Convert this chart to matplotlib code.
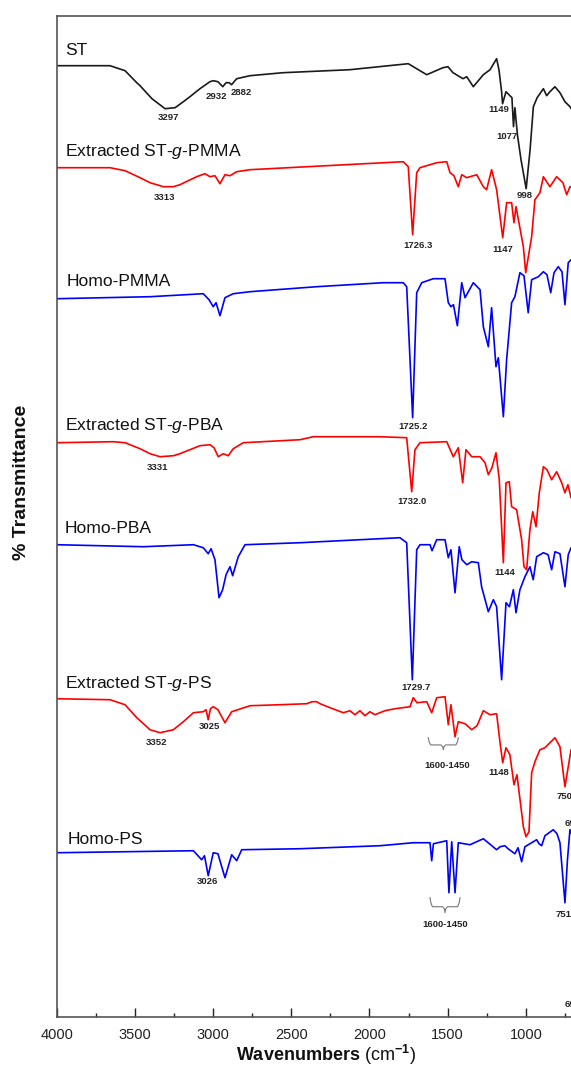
import matplotlib
matplotlib.use("Agg")
import matplotlib.pyplot as plt
from matplotlib.ticker import MultipleLocator

plt.rcParams['font.family'] = ['Liberation Sans', 'DejaVu Sans']
plt.rcParams['mathtext.fontset'] = 'custom'
plt.rcParams['mathtext.rm'] = 'Liberation Sans'
plt.rcParams['mathtext.it'] = 'Liberation Sans:italic'
plt.rcParams['mathtext.bf'] = 'Liberation Sans:bold'

# spectra: wavenumber (cm-1) and stacked transmittance (a.u.)
st_wn = [4000, 3659, 3563, 3488, 3467, 3391, 3307, 3243, 3190, 3148, 3084, 3020, 2999, 2969, 2938,
         2917, 2898, 2882, 2849, 2764, 2553, 2125, 1752, 1634, 1530, 1498, 1466, 1402,
         1378, 1336, 1272, 1229, 1187, 1172, 1155, 1149, 1127, 1102, 1089, 1079, 1070,
         1054, 1031, 998, 973, 952, 928, 888, 867, 846, 814, 782, 750, 718, 686]
st_t = [951, 951, 946, 934, 931, 918, 908, 909, 915, 920, 928, 935, 936, 935, 930,
        934, 934, 932, 938, 941, 944, 947, 953, 942, 949, 950, 944, 938,
        940, 930, 942, 947, 958, 947, 925, 913, 925, 921, 919, 890, 909,
        882, 857, 828, 867, 910, 919, 928, 921, 925, 930, 924, 915, 910, 902]

pmma_g_wn = [4000, 3659, 3563, 3467, 3403, 3318, 3254, 3212, 3105, 3052, 3020, 2988, 2956, 2924, 2892,
             2849, 2764, 1784, 1752, 1724, 1698, 1677, 1570, 1506, 1485, 1460, 1432, 1410,
             1378, 1314, 1272, 1251, 1219, 1187, 1148, 1123, 1091, 1076, 1063, 1016, 1001,
             963, 942, 910, 888, 846, 803, 763, 739, 718, 686]
pmma_g_t = [849, 849, 846, 839, 834, 830, 830, 832, 840, 843, 840, 841, 833, 842, 841,
            845, 847, 855, 850, 782, 844, 849, 854, 855, 844, 841, 830, 842,
            839, 842, 830, 827, 847, 827, 779, 814, 814, 794, 810, 770, 744,
            780, 817, 824, 840, 830, 840, 834, 822, 830, 827]

pmma_wn = [4000, 3403, 3063, 3026, 2999, 2981, 2956, 2924, 2871, 2764, 2338, 1912, 1784,
           1762, 1724, 1698, 1666, 1592, 1517, 1496, 1479, 1463, 1438, 1410, 1389, 1336,
           1293, 1272, 1240, 1219, 1191, 1176, 1144, 1123, 1091, 1070, 1038, 1012, 985,
           963, 920, 888, 865, 841, 820, 793, 769, 750, 729, 711, 686]
pmma_t = [718, 720, 723, 717, 710, 714, 701, 719, 723, 725, 730, 734, 734,
          730, 599, 724, 734, 738, 738, 714, 710, 712, 691, 734, 719, 734,
          727, 690, 670, 709, 650, 659, 600, 657, 714, 720, 744, 741, 704,
          737, 740, 745, 742, 724, 744, 750, 745, 712, 754, 757, 755]

pba_g_wn = [4000, 3638, 3563, 3467, 3403, 3339, 3254, 3212, 3084, 3020, 2994, 2967, 2935, 2903, 2871,
            2807, 2444, 2359, 1933, 1762, 1730, 1709, 1677, 1506, 1464, 1432, 1404, 1383,
            1346, 1293, 1261, 1240, 1217, 1191, 1170, 1144, 1127, 1106, 1091, 1059, 1027,
            1012, 995, 974, 956, 935, 914, 888, 865, 835, 803, 771, 750, 731, 711, 686]
pba_g_t = [574, 575, 574, 568, 563, 560, 561, 563, 571, 572, 569, 560, 563, 561, 568,
           574, 577, 580, 580, 579, 525, 567, 574, 575, 560, 569, 534, 567,
           560, 560, 554, 542, 549, 564, 537, 454, 534, 535, 510, 507, 477,
           450, 447, 487, 505, 490, 524, 550, 547, 537, 545, 534, 524, 532, 519, 522]

pba_wn = [4000, 3446, 3126, 3063, 3031, 3013, 2988, 2962, 2939, 2917, 2892, 2875, 2839,
          2796, 2444, 1933, 1805, 1762, 1726, 1698, 1677, 1613, 1600, 1570, 1517, 1496,
          1479, 1453, 1426, 1409, 1378, 1346, 1304, 1283, 1240, 1208, 1187, 1155, 1127,
          1105, 1080, 1063, 1038, 1006, 974, 953, 931, 888, 858, 835, 814, 782, 750,
          729, 711, 686]
pba_t = [472, 470, 472, 469, 463, 468, 457, 419, 427, 442, 450, 441, 460,
         472, 474, 478, 479, 474, 337, 467, 472, 472, 466, 477, 477, 459,
         467, 424, 470, 457, 452, 455, 454, 430, 405, 417, 410, 337, 414,
         410, 427, 404, 427, 440, 450, 437, 460, 464, 462, 447, 465, 463, 430,
         462, 469, 469]

ps_g_wn = [4000, 3659, 3563, 3488, 3403, 3339, 3254, 3190, 3126, 3063, 3045, 3031, 3017, 2999, 2969,
           2924, 2881, 2764, 2572, 2401, 2368, 2338, 2316, 2252, 2167, 2125, 2093, 2061,
           2029, 1997, 1965, 1901, 1837, 1741, 1720, 1696, 1634, 1602, 1570, 1517, 1496,
           1479, 1453, 1432, 1389, 1346, 1312, 1272, 1229, 1187, 1165, 1148, 1127, 1102,
           1076, 1057, 1016, 999, 980, 963, 942, 910, 878, 846, 814, 782, 750, 729, 711, 686]
ps_g_t = [318, 317, 312, 299, 287, 284, 287, 295, 304, 305, 307, 297, 308, 310, 307,
          294, 305, 311, 312, 313, 315, 315, 313, 309, 304, 306, 302, 306,
          301, 305, 302, 306, 308, 310, 319, 314, 315, 304, 319, 320, 292,
          312, 280, 295, 293, 287, 291, 306, 302, 303, 274, 254, 269, 262,
          232, 242, 190, 180, 185, 244, 255, 267, 269, 274, 279, 270, 230, 250, 267, 265]

ps_wn = [4000, 3126, 3073, 3055, 3031, 2999, 2969, 2924, 2881, 2849, 2817, 2444, 1933,
         1720, 1613, 1602, 1591, 1506, 1492, 1474, 1453, 1432, 1357, 1272, 1187, 1165,
         1134, 1114, 1070, 1050, 1027, 1006, 931, 916, 899, 878, 825, 801, 782, 750,
         734, 718, 705, 698, 686]
ps_t = [164, 166, 157, 161, 141, 164, 163, 139, 162, 156, 167, 168, 171,
        174, 174, 156, 173, 176, 124, 175, 124, 174, 172, 178, 167, 170,
        171, 168, 163, 169, 155, 170, 177, 173, 171, 181, 187, 183, 174, 114,
        157, 187, 182, 27, 117]

names = ['ST', r'Extracted ST-$\mathit{g}$-PMMA', 'Homo-PMMA',
         r'Extracted ST-$\mathit{g}$-PBA', 'Homo-PBA',
         r'Extracted ST-$\mathit{g}$-PS', 'Homo-PS']
spectra = [(st_wn, st_t), (pmma_g_wn, pmma_g_t), (pmma_wn, pmma_t),
           (pba_g_wn, pba_g_t), (pba_wn, pba_t), (ps_g_wn, ps_g_t), (ps_wn, ps_t)]
colors = ['#1a1a1a', '#ff0000', '#0000ff', '#ff0000', '#0000ff', '#ff0000', '#0000ff']

# name label anchors (left x, baseline y)
name_pos = [(3947, 962), (3947, 861), (3936, 731), (3947, 587),
            (3947, 484), (3947, 329), (3930, 173)]

# peak labels: text, x, y, alignment
peaks = [
    ('3297', 3288, 899, 'center'), ('2932', 2980, 920, 'center'),
    ('2882', 2822, 924, 'center'), ('1149', 1176, 907, 'center'),
    ('1077', 1123, 880, 'center'), ('998', 1006, 821, 'center'),
    ('3313', 3309, 819, 'center'), ('1726.3', 1692, 771, 'center'),
    ('1147', 1146, 767, 'center'), ('1725.2', 1719, 590, 'center'),
    ('3331', 3355, 549, 'center'), ('1732.0', 1725, 515, 'center'),
    ('1144', 1134, 444, 'center'), ('1729.7', 1704, 329, 'center'),
    ('3352', 3360, 274, 'center'), ('3025', 3026, 290, 'center'),
    ('1600-1450', 1503, 251, 'center'), ('1148', 1175, 244, 'center'),
    ('750', 803, 220, 'left'), ('3026', 3036, 135, 'center'),
    ('1600-1450', 1517, 92, 'center'), ('751', 809, 102, 'left'),
    ('698', 750, 193, 'left'), ('698', 750, 12, 'left'),
]

# braces: x from, x to, top y, bottom y
braces = [(1624, 1432, 279, 267), (1613, 1421, 119, 104)]


def draw_brace(ax, x0, x1, yt, yb, color):
    h = yt - yb
    ym = yt - 0.6 * h
    fr = [0, 0.03, 0.08, 0.42, 0.48, 0.5, 0.52, 0.58, 0.92, 0.97, 1]
    ys = [yt, ym + 0.25 * h, ym, ym, ym - 0.15 * h, yb, ym - 0.15 * h, ym, ym,
          ym + 0.25 * h, yt]
    xs = [x0 + f * (x1 - x0) for f in fr]
    ax.plot(xs, ys, color=color, lw=0.8)


fig = plt.figure(figsize=(5.71, 10.68), dpi=100)
ax = fig.add_axes([0.0993, 0.0480, 0.9312, 0.9373])

for (wn, t), c in zip(spectra, colors):
    ax.plot(wn, t, color=c, lw=1.2, solid_joinstyle='round')

for name, (x, y) in zip(names, name_pos):
    ax.text(x, y, name, fontsize=12.6, ha='left', va='baseline', color='#111111')

for txt, x, y, ha in peaks:
    ax.text(x, y, txt, fontsize=6.8, fontweight='bold', ha=ha, va='center',
            color='#222222', clip_on=False)

for x0, x1, yt, yb in braces:
    draw_brace(ax, x0, x1, yt, yb, '#777777')

ax.set_xlim(4000, 600)
ax.set_ylim(0, 1001)
ax.xaxis.set_major_locator(MultipleLocator(500))
ax.xaxis.set_minor_locator(MultipleLocator(250))
ax.set_yticks([])
ax.tick_params(axis='x', which='major', direction='in', length=6.5, width=1.0,
               labelsize=10.5, pad=8, colors='#222222')
ax.tick_params(axis='x', which='minor', direction='in', length=3, width=1.0,
               color='#222222')
for side in ['left', 'bottom', 'top']:
    ax.spines[side].set_color('#555555')
    ax.spines[side].set_linewidth(1.2)
ax.spines['right'].set_visible(False)

fig.text(0.571, 0.0125, r'$\mathbf{Wavenumbers}$ (cm$^{\mathbf{-1}}$)', fontsize=13,
         ha='center', va='center', color='#111111')
fig.text(0.038, 0.5487, '% Transmittance', fontsize=14, fontweight='bold',
         rotation=90, ha='center', va='center', color='#111111')

fig.savefig('out.png', dpi=100)
